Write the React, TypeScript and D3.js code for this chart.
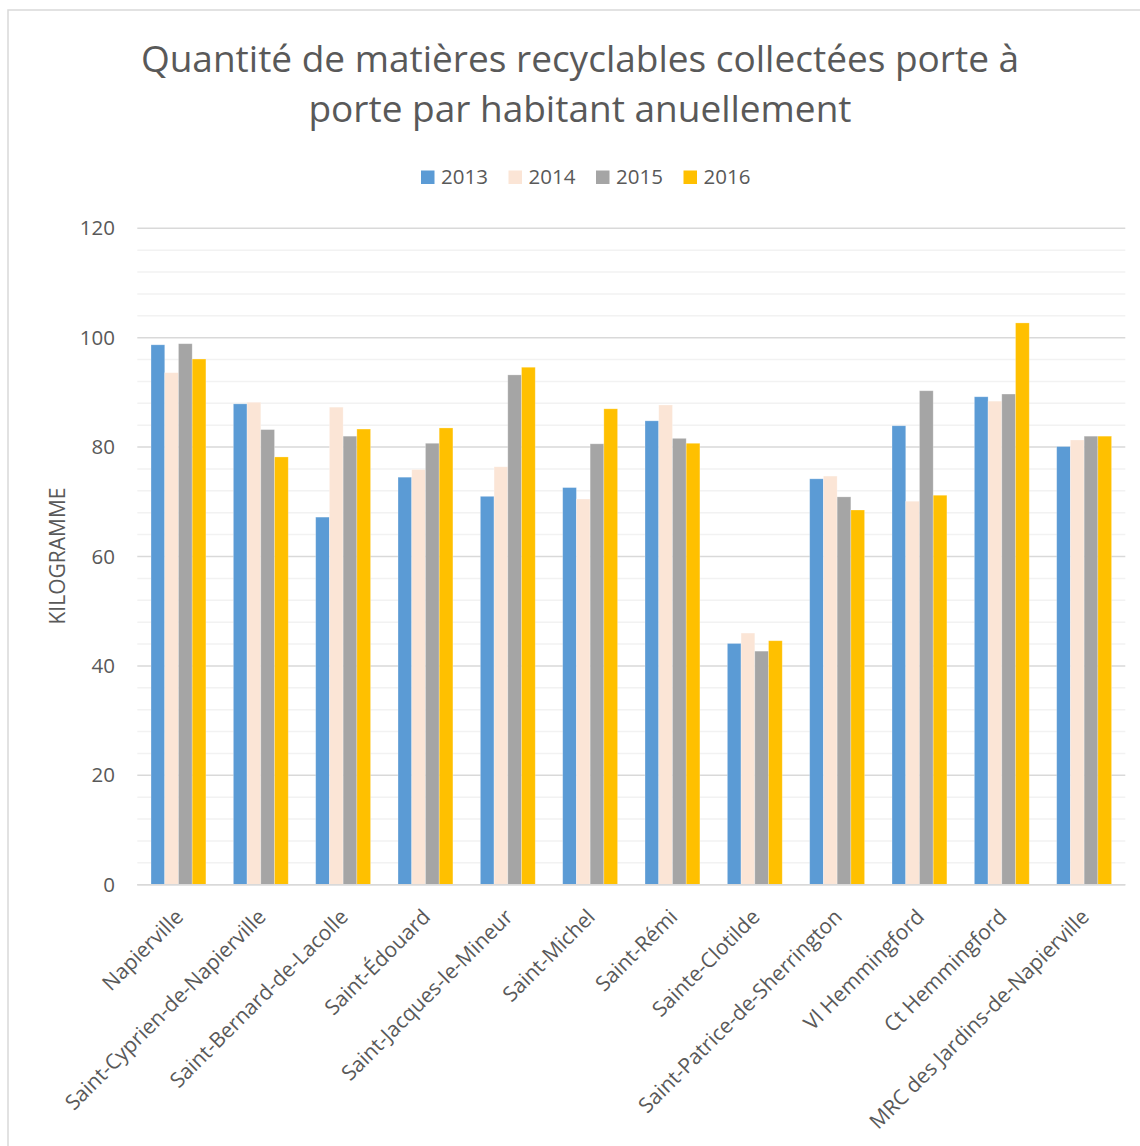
import React from "react";
import * as d3 from "d3";

const categories = [
  "Napierville",
  "Saint-Cyprien-de-Napierville",
  "Saint-Bernard-de-Lacolle",
  "Saint-Édouard",
  "Saint-Jacques-le-Mineur",
  "Saint-Michel",
  "Saint-Rémi",
  "Sainte-Clotilde",
  "Saint-Patrice-de-Sherrington",
  "Vl Hemmingford",
  "Ct Hemmingford",
  "MRC des Jardins-de-Napierville",
];
const years = ["2013", "2014", "2015", "2016"];
const values2013 = [98.7, 87.9, 67.2, 74.5, 71.0, 72.6, 84.8, 44.1, 74.2, 83.9, 89.2, 80.1];
const values2014 = [93.6, 88.2, 87.3, 75.9, 76.4, 70.5, 87.7, 46.0, 74.7, 70.1, 88.4, 81.3];
const values2015 = [98.9, 83.2, 82.0, 80.7, 93.2, 80.6, 81.6, 42.7, 70.9, 90.3, 89.7, 82.0];
const values2016 = [96.1, 78.2, 83.3, 83.5, 94.6, 87.0, 80.7, 44.6, 68.5, 71.2, 102.7, 82.0];
const seriesValues = [values2013, values2014, values2015, values2016];
const colors = ["#5B9BD5", "#FBE5D6", "#A5A5A5", "#FFC000"];
const yTicks = [0, 20, 40, 60, 80, 100, 120];
const titleLines = [
  "Quantité de matières recyclables collectées porte à",
  "porte par habitant anuellement",
];
const yTitle = "KILOGRAMME";

const W = 1140;
const H = 1146;
const FONT = "'Open Sans', 'Noto Sans', sans-serif";
const TXT = "#595959";

export default function App() {
  const x0 = 137.3;
  const x1 = 1125.3;
  const yTop = 228.3;
  const yBottom = 884.7;
  const x = d3.scaleBand<string>().domain(categories).range([x0, x1]).padding(0);
  const y = d3.scaleLinear().domain([0, 120]).range([yBottom, yTop]);
  const bw = x.bandwidth() / 6;
  const minorTicks = d3.range(0, 121, 4).filter((v) => v % 20 !== 0);

  return (
    <svg
      width={W}
      height={H}
      style={{ position: "absolute", left: 0, top: 0, background: "#fff" }}
      fontFamily={FONT}
    >
      <rect x={0} y={0} width={W} height={H} fill="#fff" />
      <rect x={8} y={10} width={W + 20} height={H + 20} fill="none" stroke="#d9d9d9" strokeWidth={1.5} />

      {titleLines.map((t, i) => (
        <text key={i} x={580} y={72 + i * 50} textAnchor="middle" fontSize={37} fill={TXT}>
          {t}
        </text>
      ))}

      {years.map((yr, i) => {
        const lx = 421 + i * 87.5;
        return (
          <g key={yr}>
            <rect x={lx} y={170.5} width={13.5} height={13.5} fill={colors[i]} />
            <text x={lx + 20} y={184} fontSize={20.5} fill={TXT}>
              {yr}
            </text>
          </g>
        );
      })}

      {minorTicks.map((v) => (
        <line key={"m" + v} x1={x0} x2={x1} y1={y(v)} y2={y(v)} stroke="#f2f2f2" strokeWidth={1.5} />
      ))}
      {yTicks.map((v) => (
        <line key={"g" + v} x1={x0} x2={x1} y1={y(v)} y2={y(v)} stroke="#d9d9d9" strokeWidth={1.5} />
      ))}
      {yTicks.map((v) => (
        <text key={"t" + v} x={115} y={y(v)} dy="0.35em" textAnchor="end" fontSize={20.5} fill={TXT}>
          {v}
        </text>
      ))}

      <text
        transform={`translate(65,556) rotate(-90)`}
        textAnchor="middle"
        fontSize={21}
        fill={TXT}
      >
        {yTitle}
      </text>

      {categories.map((c, ci) => (
        <g key={c}>
          {seriesValues.map((vals, si) => (
            <rect
              key={si}
              x={(x(c) as number) + bw + si * bw}
              y={y(vals[ci])}
              width={bw}
              height={y(0) - y(vals[ci])}
              fill={colors[si]}
              stroke="#ffffff"
              strokeOpacity={0.35}
              strokeWidth={0.75}
            />
          ))}
        </g>
      ))}
      <line x1={x0} x2={x1} y1={y(0)} y2={y(0)} stroke="#d9d9d9" strokeWidth={1.5} />

      {categories.map((c) => {
        const cx = (x(c) as number) + x.bandwidth() / 2 + 1;
        return (
          <text
            key={"l" + c}
            transform={`translate(${cx},${913}) rotate(-45)`}
            textAnchor="end"
            dy="0.35em"
            fontSize={21}
            fill={TXT}
          >
            {c}
          </text>
        );
      })}
    </svg>
  );
}
